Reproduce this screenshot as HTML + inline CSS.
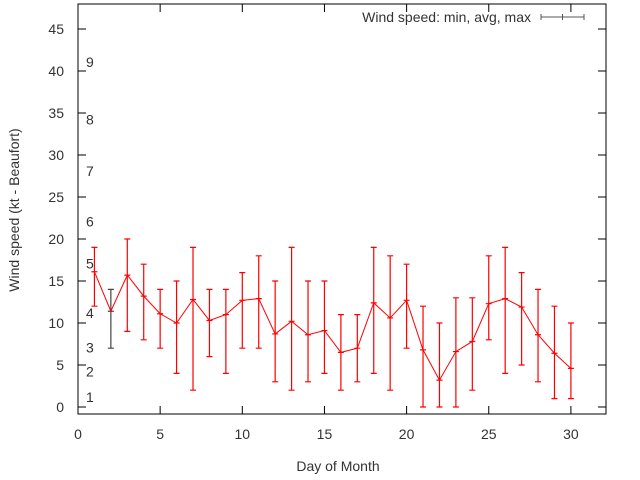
<!DOCTYPE html>
<html><head><meta charset="utf-8"><style>body{margin:0;background:#fff}svg{display:block;font-family:"Liberation Sans",sans-serif}</style></head>
<body>
<svg id="c" width="640" height="480"></svg>
<script>
const days=[1,2,3,4,5,6,7,8,9,10,11,12,13,14,15,16,17,18,19,20,21,22,23,24,25,26,27,28,29,30];
const minVals=[12,7,9,8,7,4,2,6,4,7,7,3,2,3,4,2,3,4,2,7,0,0,0,2,8,4,5,3,1,1];
const maxVals=[19,14,20,17,14,15,19,14,14,16,18,15,19,15,15,11,11,19,18,17,12,10,13,13,18,19,16,14,12,10];
const avgVals=[16.1,11.4,15.7,13.2,11.1,10,12.8,10.3,11,12.7,12.9,8.7,10.2,8.6,9.1,6.5,7,12.4,10.6,12.7,6.8,3.2,6.6,7.8,12.3,12.9,11.9,8.6,6.4,4.6];
const xTicks=[0,5,10,15,20,25,30];
const yTicks=[0,5,10,15,20,25,30,35,40,45];
const beaufortLabels=["1","2","3","4","5","6","7","8","9"];
const beaufortVals=[1.2,4.2,7.1,11.2,17.1,22.1,28.1,34.2,41.1];
const L=78,R=606,T=4,B=414;
const xs=v=>78+v*16.43, ys=v=>407-v*8.4;
const svg=document.getElementById('c');
function mk(t,a,txt){const e=document.createElementNS('http://www.w3.org/2000/svg',t);for(const k in a)e.setAttribute(k,a[k]);if(txt!==undefined)e.textContent=txt;svg.appendChild(e);return e;}
let e;
e=mk('rect',{x:L,y:T,width:R-L,height:B-T,fill:'none',stroke:'#000'});


yTicks.forEach(v=>{const y=ys(v);
 e=mk('path',{d:`M${L} ${y}h8M${R} ${y}h-8`,stroke:'#000'});
 
 
 e=mk('text',{x:L-14,y:y+5,'text-anchor':'end','font-size':14,fill:'#333'},v);
 
 });
xTicks.forEach(v=>{const x=xs(v);
 e=mk('path',{d:`M${x} ${B}v-8M${x} ${T}v8`,stroke:'#000'});
 
 
 e=mk('text',{x:x,y:B+25,'text-anchor':'middle','font-size':14,fill:'#333'},v);
 
 });
beaufortLabels.forEach((t,i)=>{
 e=mk('text',{x:86,y:ys(beaufortVals[i])+5,'font-size':14,fill:'#333'},t);
 
 });
e=mk('text',{x:338,y:471,'text-anchor':'middle','font-size':14,fill:'#333'},'Day of Month');


e=mk('text',{x:0,y:0,'text-anchor':'middle','font-size':14,fill:'#333',transform:'translate(19,210) rotate(-90)'},'Wind speed (kt - Beaufort)');


e=mk('text',{x:531,y:22,'text-anchor':'end','font-size':14,fill:'#333'},'Wind speed: min, avg, max');


e=mk('path',{d:'M541 17h43M541 14v6M584 14v6M562.5 14v6',stroke:'#555'});


days.forEach((d,i)=>{const x=xs(d);
 e=mk('path',{d:`M${x} ${ys(minVals[i])}V${ys(maxVals[i])}M${x-3} ${ys(minVals[i])}h6M${x-3} ${ys(maxVals[i])}h6M${x-3} ${ys(avgVals[i])}h6`,stroke:i==1?'#444':'#f00','stroke-width':1.2,fill:'none'});
 
 });
e=mk('polyline',{points:days.map((d,i)=>xs(d)+','+ys(avgVals[i])).join(' '),fill:'none',stroke:'#f00'});


</script>
</body></html>
